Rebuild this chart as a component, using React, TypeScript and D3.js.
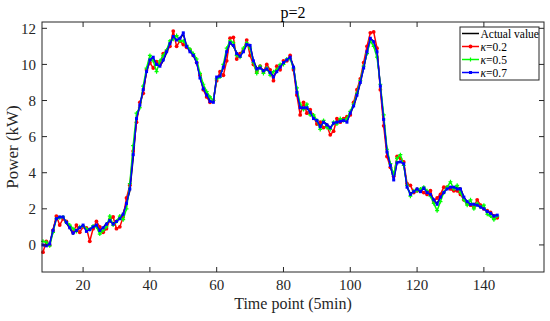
import React, { useRef, useEffect } from 'react';
import * as d3 from 'd3';

// time points 8..144 (5-min steps)
const startT = 8;

const actual = [
  -0.05, 0.0, 0.05, 0.85, 1.5, 1.55, 1.5, 1.2, 0.95, 0.6,
  0.85, 0.95, 1.1, 0.8, 0.9, 1.0, 1.05, 0.85, 0.95, 1.2,
  1.3, 1.2, 1.35, 1.5, 1.75, 2.3, 3.0, 4.8, 7.0, 7.7,
  8.5, 9.6, 10.2, 10.3, 10.0, 9.9, 10.2, 10.65, 11.1, 11.55,
  11.35, 11.4, 11.7, 11.0, 10.75, 10.55, 10.15, 9.3, 8.7, 8.4,
  8.0, 7.95, 9.3, 9.4, 9.8, 10.65, 11.2, 11.0, 10.65, 10.45,
  10.75, 11.1, 11.1, 10.2, 9.8, 9.8, 9.7, 9.7, 9.6, 9.35,
  9.6, 9.9, 10.1, 10.2, 10.4, 9.9, 8.5, 7.6, 7.55, 7.55,
  7.4, 7.05, 6.85, 6.6, 6.8, 6.7, 6.5, 6.7, 6.85, 6.85,
  6.85, 6.85, 7.3, 7.7, 8.25, 9.0, 9.8, 10.65, 11.4, 11.3,
  10.7, 8.8, 6.9, 5.2, 4.45, 3.6, 4.6, 4.6, 4.5, 3.2,
  2.85, 2.95, 3.15, 2.95, 3.15, 2.95, 2.85, 2.5, 2.3, 2.65,
  2.95, 3.15, 3.2, 3.2, 3.15, 3.15, 2.65, 2.4, 2.2, 2.3,
  2.2, 2.1, 2.0, 1.85, 1.75, 1.65, 1.65,
];

const kappa02 = [
  -0.4, 0.2, 0.0, 0.8, 1.6, 1.1, 1.45, 1.3, 1.0, 0.7,
  1.1, 0.7, 1.0, 0.95, 0.2, 0.9, 1.3, 1.0, 0.7, 0.9,
  1.4, 1.55, 0.9, 1.0, 1.55, 2.6, 3.3, 5.2, 6.8, 7.9,
  8.4, 9.7, 10.1, 9.8, 10.15, 10.0, 10.6, 10.75, 11.0, 11.85,
  11.0, 11.3, 11.1, 10.95, 10.8, 10.5, 10.1, 9.4, 8.6, 8.2,
  7.9, 8.0, 9.1, 9.6, 9.4, 10.2, 11.45, 11.5, 10.3, 10.6,
  10.8, 11.35, 10.5, 10.0, 9.6, 9.9, 9.6, 10.0, 9.7, 9.1,
  9.9, 9.7, 10.2, 10.2, 10.5, 9.7, 8.3, 7.2, 7.9, 7.3,
  7.5, 7.1, 6.7, 6.8, 6.5, 6.6, 6.1, 6.3, 7.0, 6.8,
  7.0, 7.1, 7.2, 7.9, 8.6, 9.2, 10.1, 11.0, 11.75, 11.8,
  10.9, 8.6, 6.6, 4.9, 4.3, 3.8, 4.9, 4.8, 4.6, 3.4,
  3.3, 2.9, 3.0, 3.0, 2.9, 2.8, 3.0, 2.4, 2.6, 2.8,
  3.2, 3.2, 3.1, 3.0, 3.0, 2.8, 2.5, 2.3, 2.2, 2.1,
  2.5, 2.2, 2.0, 1.9, 1.8, 1.6, 1.5,
];

const kappa05 = [
  0.2, 0.15, -0.05, 0.7, 1.45, 1.5, 1.55, 1.25, 1.1, 0.9,
  0.75, 1.0, 1.05, 0.9, 0.85, 1.05, 1.0, 0.6, 0.8, 1.0,
  1.6, 1.1, 1.3, 1.6, 1.4, 2.0, 3.4, 5.5, 7.3, 7.6,
  8.8, 9.8, 10.5, 10.2, 9.6, 10.2, 10.5, 10.8, 11.3, 11.4,
  11.6, 11.3, 11.3, 11.05, 10.85, 10.6, 10.3, 9.5, 8.9, 8.5,
  8.2, 8.0, 9.2, 9.3, 10.0, 10.9, 11.3, 11.2, 10.5, 10.4,
  10.9, 11.2, 10.9, 10.1, 9.5, 9.9, 9.5, 9.8, 9.4, 9.6,
  9.7, 10.0, 10.0, 10.3, 10.3, 9.8, 8.7, 7.8, 7.5, 7.8,
  7.2, 7.2, 6.9, 6.4, 6.9, 6.5, 6.4, 6.8, 6.7, 7.0,
  6.9, 7.0, 7.4, 7.8, 8.4, 9.1, 9.9, 10.6, 11.3, 11.0,
  10.4, 8.9, 7.2, 5.3, 4.5, 3.9, 4.8, 5.0, 4.4, 3.3,
  2.7, 3.0, 3.0, 3.1, 3.2, 3.0, 2.7, 2.3, 1.9, 2.4,
  2.9, 3.2, 3.5, 3.1, 3.3, 2.9, 2.5, 2.2, 2.5, 2.0,
  2.3, 2.1, 2.2, 1.7, 1.6, 1.4, 1.6,
];

const kappa07 = [
  0.0, -0.05, 0.05, 0.8, 1.45, 1.55, 1.55, 1.25, 0.95, 0.65,
  0.8, 0.95, 1.1, 0.75, 0.85, 1.0, 1.1, 0.8, 0.95, 1.15,
  1.35, 1.15, 1.3, 1.45, 1.7, 2.3, 3.1, 5.0, 7.0, 7.75,
  8.6, 9.6, 10.25, 10.4, 10.0, 9.9, 10.25, 10.7, 11.15, 11.55,
  11.35, 11.45, 11.75, 11.0, 10.7, 10.5, 10.1, 9.25, 8.65, 8.3,
  7.95, 7.9, 9.3, 9.35, 9.85, 10.7, 11.2, 11.05, 10.6, 10.45,
  10.7, 11.1, 11.05, 10.2, 9.75, 9.8, 9.65, 9.75, 9.55, 9.3,
  9.6, 9.85, 10.1, 10.25, 10.4, 9.85, 8.45, 7.6, 7.6, 7.6,
  7.35, 7.0, 6.9, 6.55, 6.8, 6.65, 6.5, 6.75, 6.8, 6.85,
  6.9, 6.8, 7.3, 7.7, 8.3, 9.0, 9.8, 10.7, 11.45, 11.25,
  10.7, 8.8, 6.95, 5.15, 4.4, 3.6, 4.55, 4.6, 4.5, 3.2,
  2.8, 2.95, 3.1, 2.95, 3.15, 2.9, 2.8, 2.5, 2.25, 2.65,
  2.9, 3.1, 3.2, 3.2, 3.1, 3.1, 2.65, 2.4, 2.25, 2.25,
  2.2, 2.1, 2.0, 1.85, 1.75, 1.6, 1.65,
];

const xTicks = [20, 40, 60, 80, 100, 120, 140];
const yTicks = [0, 2, 4, 6, 8, 10, 12];
const legendLabels = ['Actual value', 'κ=0.2', 'κ=0.5', 'κ=0.7'];

const App = () => {
  const chart = useRef<SVGSVGElement | null>(null);

  useEffect(() => {
    const svg = d3.select(chart.current);
    svg.selectAll('*').remove();

    const W = 550;
    const H = 321;
    const margin = { top: 22, left: 42, right: 6, bottom: 49 };
    const width = W - margin.left - margin.right;
    const height = H - margin.top - margin.bottom;
    const font = '"Liberation Serif", "Times New Roman", serif';
    const axisColor = '#262626';

    const x = d3.scaleLinear().domain([7.7, 158]).range([0, width]);
    const y = d3.scaleLinear().domain([-1.5, 12.35]).range([height, 0]);

    svg.append('rect').attr('width', W).attr('height', H).attr('fill', '#fff');

    const g = svg
      .append('g')
      .attr('transform', `translate(${margin.left}, ${margin.top})`);

    const series = [
      { name: legendLabels[0], values: actual, color: '#000000', marker: 'none' },
      { name: legendLabels[1], values: kappa02, color: '#ff0000', marker: 'dot' },
      { name: legendLabels[2], values: kappa05, color: '#00ff00', marker: 'plus' },
      { name: legendLabels[3], values: kappa07, color: '#0000ff', marker: 'square' },
    ];

    const line = d3
      .line<number>()
      .x((d, i) => x(startT + i))
      .y((d) => y(d));

    const drawMarker = (sel: any, kind: string, color: string, px: number, py: number) => {
      if (kind === 'dot') {
        sel.append('circle').attr('cx', px).attr('cy', py).attr('r', 1.9).attr('fill', color);
      } else if (kind === 'plus') {
        sel
          .append('path')
          .attr('d', `M${px - 2},${py}H${px + 2}M${px},${py - 2}V${py + 2}`)
          .attr('stroke', color)
          .attr('stroke-width', 1.2);
      } else if (kind === 'square') {
        sel
          .append('rect')
          .attr('x', px - 1.5)
          .attr('y', py - 1.5)
          .attr('width', 3)
          .attr('height', 3)
          .attr('fill', color);
      }
    };

    const plot = g.append('g');
    series.forEach((s) => {
      const sg = plot.append('g');
      sg.append('path')
        .datum(s.values)
        .attr('d', line)
        .attr('fill', 'none')
        .attr('stroke', s.color)
        .attr('stroke-width', 1.5)
        .attr('stroke-linejoin', 'round');
      s.values.forEach((v, i) => drawMarker(sg, s.marker, s.color, x(startT + i), y(v)));
    });

    // box + inward ticks on all sides
    g.append('rect')
      .attr('width', width)
      .attr('height', height)
      .attr('fill', 'none')
      .attr('stroke', axisColor)
      .attr('stroke-width', 1);

    const tl = 5;
    xTicks.forEach((t) => {
      g.append('line').attr('x1', x(t)).attr('x2', x(t)).attr('y1', height).attr('y2', height - tl).attr('stroke', axisColor);
      g.append('line').attr('x1', x(t)).attr('x2', x(t)).attr('y1', 0).attr('y2', tl).attr('stroke', axisColor);
      g.append('text')
        .attr('x', x(t))
        .attr('y', height + 18)
        .attr('text-anchor', 'middle')
        .attr('font-family', font)
        .attr('font-size', 15)
        .attr('fill', axisColor)
        .text(t);
    });
    yTicks.forEach((t) => {
      g.append('line').attr('x1', 0).attr('x2', tl).attr('y1', y(t)).attr('y2', y(t)).attr('stroke', axisColor);
      g.append('line').attr('x1', width).attr('x2', width - tl).attr('y1', y(t)).attr('y2', y(t)).attr('stroke', axisColor);
      g.append('text')
        .attr('x', -6)
        .attr('y', y(t))
        .attr('dy', '0.35em')
        .attr('text-anchor', 'end')
        .attr('font-family', font)
        .attr('font-size', 15)
        .attr('fill', axisColor)
        .text(t);
    });

    // title and axis labels
    svg.append('text')
      .attr('x', margin.left + width / 2)
      .attr('y', 18)
      .attr('text-anchor', 'middle')
      .attr('font-family', font)
      .attr('font-size', 16)
      .attr('fill', '#000')
      .text('p=2');

    svg.append('text')
      .attr('x', margin.left + width / 2)
      .attr('y', 309)
      .attr('text-anchor', 'middle')
      .attr('font-family', font)
      .attr('font-size', 16)
      .attr('fill', axisColor)
      .text('Time point (5min)');

    svg.append('text')
      .attr('transform', `translate(18, ${margin.top + height / 2}) rotate(-90)`)
      .attr('text-anchor', 'middle')
      .attr('font-family', font)
      .attr('font-size', 17)
      .attr('fill', axisColor)
      .text('Power (kW)');

    // legend
    const lg = svg.append('g').attr('transform', 'translate(460, 27)');
    lg.append('rect')
      .attr('width', 79)
      .attr('height', 53)
      .attr('fill', '#fff')
      .attr('stroke', axisColor)
      .attr('stroke-width', 1);
    series.forEach((s, i) => {
      const cy = 6.5 + i * 13;
      lg.append('line')
        .attr('x1', 2)
        .attr('x2', 19)
        .attr('y1', cy)
        .attr('y2', cy)
        .attr('stroke', s.color)
        .attr('stroke-width', 1.5);
      drawMarker(lg, s.marker, s.color, 10.5, cy);
      const txt = lg.append('text')
        .attr('x', 20.5)
        .attr('y', cy)
        .attr('dy', '0.35em')
        .attr('font-family', font)
        .attr('font-size', 11.5)
        .attr('fill', '#000');
      if (i === 0) {
        txt.text(s.name);
      } else {
        txt.append('tspan').attr('font-style', 'italic').text('κ');
        txt.append('tspan').text(s.name.slice(1));
      }
    });
  }, []);

  return (
    <svg
      ref={chart}
      width={550}
      height={321}
      style={{ position: 'absolute', left: 0, top: 0 }}
    />
  );
};

export default App;
